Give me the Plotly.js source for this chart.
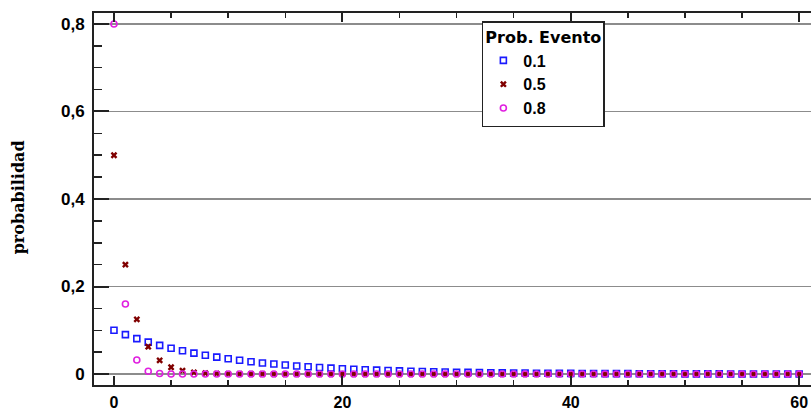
<!DOCTYPE html>
<html>
<head>
<meta charset="utf-8">
<script src="https://cdn.plot.ly/plotly-3.0.1.min.js"></script>
<style>
  html, body { margin: 0; padding: 0; background: #fff; overflow: hidden; width: 811px; height: 413px; }
  #chart { width: 830px; height: 413px; }
</style>
</head>
<body>
<div id="chart"></div>
<script>
// Number of failures before the first success, x = 0..60
const xValues = [
  0,1,2,3,4,5,6,7,8,9,10,11,12,13,14,15,16,17,18,19,20,
  21,22,23,24,25,26,27,28,29,30,31,32,33,34,35,36,37,38,39,40,
  41,42,43,44,45,46,47,48,49,50,51,52,53,54,55,56,57,58,59,60
];

// Probability for event probability 0.1
const prob01 = [
  0.1, 0.09, 0.081, 0.0729, 0.0656, 0.0590, 0.0531, 0.0478, 0.0431, 0.0387, 0.0349,
  0.0314, 0.0282, 0.0254, 0.0229, 0.0206, 0.0185, 0.0167, 0.0150, 0.0135, 0.0122,
  0.0109, 0.0098, 0.0089, 0.0080, 0.0072, 0.0065, 0.0058, 0.0052, 0.0047, 0.0042,
  0.0038, 0.0034, 0.0031, 0.0028, 0.0025, 0.0023, 0.0020, 0.0018, 0.0016, 0.0015,
  0.0013, 0.0012, 0.0011, 0.0010, 0.0009, 0.0008, 0.0007, 0.0006, 0.0006, 0.0005,
  0.0005, 0.0004, 0.0004, 0.0003, 0.0003, 0.0003, 0.0002, 0.0002, 0.0002, 0.0002
];

// Probability for event probability 0.5
const prob05 = [
  0.5, 0.25, 0.125, 0.0625, 0.0313, 0.0156, 0.0078, 0.0039, 0.0020, 0.0010, 0.0005,
  0.0002, 0.0001, 0.0001, 0, 0, 0, 0, 0, 0, 0,
  0, 0, 0, 0, 0, 0, 0, 0, 0, 0,
  0, 0, 0, 0, 0, 0, 0, 0, 0, 0,
  0, 0, 0, 0, 0, 0, 0, 0, 0, 0,
  0, 0, 0, 0, 0, 0, 0, 0, 0, 0
];

// Probability for event probability 0.8
const prob08 = [
  0.8, 0.16, 0.032, 0.0064, 0.0013, 0.0003, 0.0001, 0, 0, 0, 0,
  0, 0, 0, 0, 0, 0, 0, 0, 0, 0,
  0, 0, 0, 0, 0, 0, 0, 0, 0, 0,
  0, 0, 0, 0, 0, 0, 0, 0, 0, 0,
  0, 0, 0, 0, 0, 0, 0, 0, 0, 0,
  0, 0, 0, 0, 0, 0, 0, 0, 0, 0
];

const seriesNames = ['0.1', '0.5', '0.8'];
const yTickVals = [0, 0.2, 0.4, 0.6, 0.8];
const xTickVals = [0, 20, 40, 60];

const tickFont = { family: 'Liberation Sans, Arial, sans-serif', size: 17, color: '#000', weight: 'bold' };

const traces = [
  {
    x: xValues, y: prob01, name: seriesNames[0], type: 'scatter', mode: 'markers',
    marker: { symbol: 'square-open', size: 6, color: '#1a1aff', line: { width: 1.6, color: '#1a1aff' } }
  },
  {
    x: xValues, y: prob05, name: seriesNames[1], type: 'scatter', mode: 'markers',
    marker: { symbol: 'x', size: 6, color: '#800000', line: { width: 0 } }
  },
  {
    x: xValues, y: prob08, name: seriesNames[2], type: 'scatter', mode: 'markers',
    marker: { symbol: 'circle-open', size: 6, color: '#e020e0', line: { width: 1.6, color: '#e020e0' } }
  }
];

const layout = {
  width: 830,
  height: 413,
  margin: { l: 94, r: 0, t: 13, b: 28 },
  paper_bgcolor: '#fff',
  plot_bgcolor: '#fff',
  separators: ',.',
  showlegend: true,
  xaxis: {
    range: [-1.75, 62.7],
    tickvals: xTickVals,
    ticks: 'inside',
    ticklen: 9,
    tickwidth: 2,
    tickcolor: '#222',
    minor: { dtick: 5, tick0: 0, ticks: 'inside', ticklen: 5, tickwidth: 1.5, tickcolor: '#222', showgrid: false },
    showgrid: false,
    zeroline: false,
    showline: true,
    linecolor: '#222',
    linewidth: 2,
    mirror: 'ticks',
    tickfont: { family: 'Liberation Sans, Arial, sans-serif', size: 16, color: '#000', weight: 'bold' },
    ticklabelstandoff: 2
  },
  yaxis: {
    range: [-0.025, 0.825],
    tickvals: yTickVals,
    ticks: 'inside',
    ticklen: 15,
    tickwidth: 2,
    tickcolor: '#222',
    minor: { dtick: 0.05, tick0: 0, ticks: 'inside', ticklen: 8, tickwidth: 1.5, tickcolor: '#222', showgrid: false },
    showgrid: true,
    gridcolor: '#8c8c8c',
    gridwidth: 1.5,
    zeroline: true,
    zerolinecolor: '#8c8c8c',
    zerolinewidth: 1.5,
    showline: true,
    linecolor: '#222',
    linewidth: 2,
    mirror: 'ticks',
    tickfont: tickFont,
    ticklabelstandoff: 4
  },
  legend: {
    x: 0.527, y: 0.978, xanchor: 'left', yanchor: 'top',
    bgcolor: '#fff',
    bordercolor: '#222',
    borderwidth: 1.5,
    title: { text: 'Prob. Evento', font: { family: 'DejaVu Sans, sans-serif', size: 16, color: '#000', weight: 'bold' } },
    font: { family: 'Liberation Sans, Arial, sans-serif', size: 16, color: '#000', weight: 'bold' },
    tracegroupgap: 0,
    itemwidth: 30
  },
  annotations: [
    {
      text: 'probabilidad',
      xref: 'paper', yref: 'paper',
      x: -0.103, y: 0.505,
      xanchor: 'center', yanchor: 'middle',
      textangle: -90,
      showarrow: false,
      font: { family: 'DejaVu Serif, serif', size: 16, color: '#000', weight: 'bold' }
    }
  ]
};

Plotly.newPlot('chart', traces, layout, { displayModeBar: false, staticPlot: true });
</script>
</body>
</html>
